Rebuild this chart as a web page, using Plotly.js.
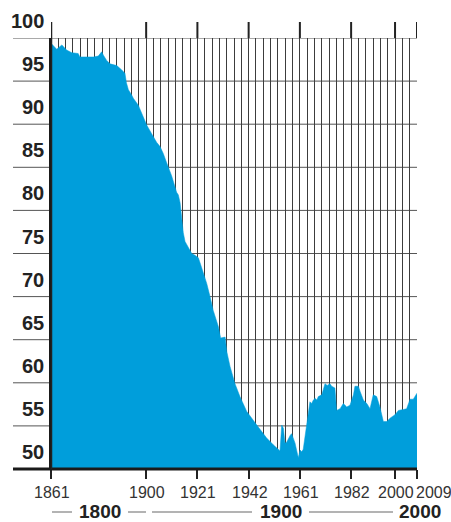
<!DOCTYPE html>
<html>
<head>
<meta charset="utf-8">
<script src="https://cdn.plot.ly/plotly-3.0.1.min.js"></script>
<style>
html,body{margin:0;padding:0;background:#fff;}
#chart{width:451px;height:522px;}
</style>
</head>
<body>
<div id="chart"></div>
<script>
// ---- data ----
const years = [1861,1863.3,1865.4,1867.3,1869.4,1872.0,1872.7,1878.1,1880.1,1881.5,1882.2,1883.5,1884.9,1887.6,1889.6,1890.9,1891.5,1892.3,1893.6,1894.3,1896.3,1898.3,1899.7,1901.7,1903.7,1905.1,1906.4,1907.8,1909.8,1911.8,1912.5,1913.2,1913.9,1914.5,1915.2,1916.5,1917.9,1919.2,1920.6,1921.3,1922.6,1924.0,1925.3,1926.6,1928.7,1929.6,1931.4,1932.1,1933.4,1935.4,1937.4,1940.1,1944.2,1948.2,1950.9,1953.0,1953.6,1954.3,1955.0,1955.6,1956.3,1957.7,1958.3,1959.7,1961.0,1961.7,1962.4,1963.0,1964.4,1965.7,1966.4,1967.1,1967.8,1968.5,1969.1,1970.5,1971.1,1971.8,1972.7,1973.8,1974.5,1975.8,1976.5,1977.9,1979.2,1980.6,1981.9,1983.3,1983.9,1985.3,1986.0,1987.3,1988.7,1990.0,1991.3,1992.7,1994.0,1995.4,1996.8,1998.1,2000.1,2001.5,2003.5,2004.8,2006.2,2007.5,2009];
const values = [99.4,98.7,99.2,98.6,98.3,98.2,97.8,97.8,97.9,98.4,98.0,97.4,97.0,96.8,96.3,95.9,94.8,94.0,93.4,93.0,92.2,90.9,89.9,88.9,87.9,87.4,86.6,85.5,84.0,82.1,81.8,80.9,79.0,77.4,76.4,75.8,75.0,74.8,74.5,73.9,72.7,71.5,70.0,68.4,66.5,65.2,65.3,63.6,61.9,59.9,58.4,56.7,55.1,53.6,52.8,52.2,52.1,55.1,54.7,53.0,53.1,53.9,54.1,53.0,51.3,52.2,52.0,52.3,55.3,57.8,57.6,58.0,58.2,58.0,58.4,58.6,59.2,59.9,59.7,59.9,59.6,59.4,56.8,57.0,57.6,57.2,57.4,58.6,59.6,59.6,59.0,58.0,57.6,57.0,58.6,58.4,57.2,55.5,55.5,55.9,56.3,56.8,56.9,57.0,58.1,58.1,58.8];
const xTickYears = [1861,1900,1921,1942,1961,1982,2000,2009];
const xTickText = ['1861','1900','1921','1942','1961','1982','2000','2009'];
const yTickVals = [50,55,60,65,70,75,80,85,90,95,100];
const yTickText = ['50','55','60','65','70','75','80','85','90','95','100'];
const centuryLabels = ['1800','1900','2000'];

// ---- layout helpers ----
const xMin = 1861, xMax = 2009, nGrid = 50;
const gridStep = (xMax - xMin) / nGrid;
const snap = y => xMin + Math.round((y - xMin) / gridStep) * gridStep;
const xTickPos = xTickYears.map(snap);

const plotW = 366, plotH = 431;
const leftExt = -38 / plotW;
const FONT = '"Liberation Sans", Arial, sans-serif';

const shapes = [];
// horizontal grid lines (extend left under labels)
yTickVals.forEach(v => {
  if (v === 50) return;
  shapes.push({type:'line', xref:'paper', yref:'y', x0:leftExt, x1:1, y0:v, y1:v,
    line:{color:'#555', width:1}, layer:'below'});
});
// bottom thick axis line
shapes.push({type:'line', xref:'paper', yref:'paper', x0:leftExt, x1:1, y0:0, y1:0,
  line:{color:'#1a1a1a', width:3}, layer:'above'});
// major ticks extending above the plot
xTickPos.forEach((p, i) => {
  shapes.push({type:'line', xref:'x', yref:'paper', x0:p, x1:p, y0:i===0?0:1, y1:1 + 16/plotH,
    line:{color:'#222', width:i===0?2.5:2}, layer:'above'});
});
// century guide lines
const cy = -43 / plotH;
[[1/plotW, 21/plotW],[77/plotW, 95/plotW],[101/plotW, 201/plotW],[258/plotW, 342/plotW]].forEach(s => {
  shapes.push({type:'line', xref:'paper', yref:'paper', x0:s[0], x1:s[1], y0:cy, y1:cy,
    line:{color:'#9a9a9a', width:1.5}});
});

const annotations = [];
yTickVals.forEach((v, i) => {
  annotations.push({xref:'paper', yref:'y', x:-5/plotW, y:v, xanchor:'right', yanchor:'bottom',
    yshift:4, showarrow:false, text:yTickText[i],
    font:{family:FONT, size:20, color:'#222', weight:'bold'}});
});
xTickPos.forEach((p, i) => {
  const last = i === xTickPos.length - 1;
  annotations.push({xref:'x', yref:'paper', x:p, y:-24/plotH, xanchor:last?'left':'center', yanchor:'middle',
    xshift:last?-3:1, showarrow:false, text:xTickText[i],
    font:{family:FONT, size:16, color:'#333'}});
});
const centuryX = [49/plotW, 230/plotW, 369/plotW];
centuryLabels.forEach((t, i) => {
  annotations.push({xref:'paper', yref:'paper', x:centuryX[i], y:cy, xanchor:'center', yanchor:'middle',
    yshift:1, showarrow:false, text:t, font:{family:FONT, size:19, color:'#222', weight:'bold'}});
});

const trace = {
  x: years, y: values, type:'scatter', mode:'lines', fill:'tozeroy',
  fillcolor:'#009edb', line:{color:'#009edb', width:0.5}, hoverinfo:'skip'
};

const layout = {
  width:451, height:522,
  margin:{l:51, r:34, t:38, b:53, pad:0},
  paper_bgcolor:'#fff', plot_bgcolor:'#fff',
  showlegend:false,
  xaxis:{range:[xMin, xMax], showgrid:false, zeroline:false, showline:false,
    tickmode:'array', tickvals:xTickPos, ticktext:xTickText, showticklabels:false,
    ticks:'outside', ticklen:9, tickwidth:2, tickcolor:'#222',
    minor:{tickmode:'linear', tick0:xMin, dtick:gridStep, showgrid:true, gridcolor:'#3c3c3c', gridwidth:1, ticks:''}},
  yaxis:{range:[50, 100], showgrid:false, zeroline:false, showline:true, linecolor:'#1a1a1a', linewidth:2.5,
    showticklabels:false, ticks:'', fixedrange:true},
  shapes: shapes,
  annotations: annotations
};

Plotly.newPlot('chart', [trace], layout, {staticPlot:true, displayModeBar:false});
</script>
</body>
</html>
